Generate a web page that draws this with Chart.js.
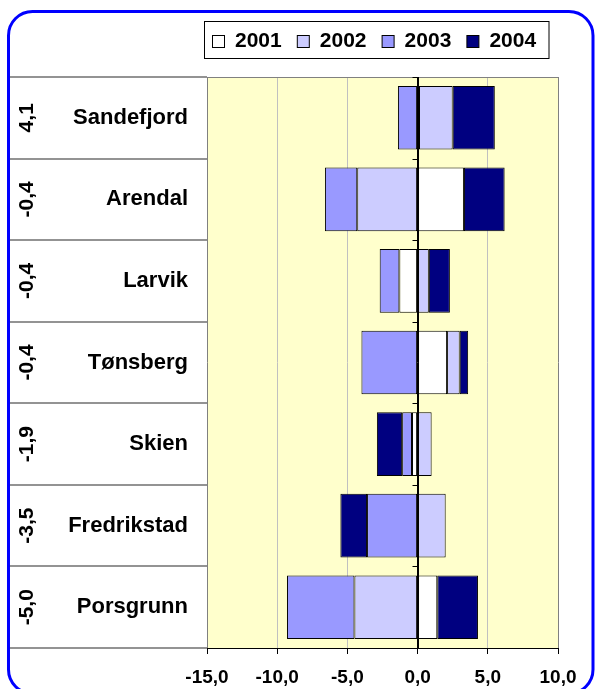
<!DOCTYPE html>
<html>
<head>
<meta charset="utf-8">
<script src="https://cdn.jsdelivr.net/npm/chart.js@4.4.1/dist/chart.umd.min.js"></script>
<style>
  html, body { margin: 0; padding: 0; background: #fff; }
  #wrap { width: 596px; height: 689px; position: relative; }
</style>
</head>
<body>
<div id="wrap"><canvas id="c" width="596" height="689"></canvas></div>
<script>
// ---- data ----
const categories = ['Sandefjord', 'Arendal', 'Larvik', 'Tønsberg', 'Skien', 'Fredrikstad', 'Porsgrunn'];
const totalLabels = ['4,1', '-0,4', '-0,4', '-0,4', '-1,9', '-3,5', '-5,0'];
const seriesNames = ['2001', '2002', '2003', '2004'];
const v2001 = [0.1, 3.3, -1.3, 2.1, -0.4, 0.0, 1.4];
const v2002 = [2.4, -4.3, 0.8, 0.9, 1.0, 2.0, -4.5];
const v2003 = [-1.4, -2.3, -1.4, -4.0, -0.7, -3.6, -4.8];
const v2004 = [3.0, 2.9, 1.5, 0.6, -1.8, -1.9, 2.9];
const xMin = -15, xMax = 10, xStep = 5;

const seriesColors = ['#FFFFFF', '#CCCCFF', '#9999FF', '#000080'];
const FONT = '"Liberation Sans", Arial, sans-serif';

const values = [v2001, v2002, v2003, v2004];
const datasets = seriesNames.map((name, i) => ({
  label: name,
  data: values[i],
  backgroundColor: seriesColors[i],
  borderColor: '#000000',
  borderWidth: 1,
  borderSkipped: false,
  categoryPercentage: 1.0,
  barPercentage: 0.78
}));

const decor = {
  id: 'decor',
  beforeDraw(chart) {
    const { ctx, chartArea: a } = chart;
    ctx.save();
    ctx.fillStyle = '#FFFFCC';
    ctx.fillRect(a.left, a.top, a.right - a.left, a.bottom - a.top);
    ctx.restore();
  },
  afterDatasetsDraw(chart) {
    const { ctx, chartArea: a } = chart;
    const y = chart.scales.y, x = chart.scales.x;
    const n = categories.length;
    const half = (y.getPixelForValue(1) - y.getPixelForValue(0)) / 2;
    const x0 = Math.round(x.getPixelForValue(0)) + 0.5;
    ctx.save();
    // top border of plot
    ctx.strokeStyle = '#808080';
    ctx.lineWidth = 1;
    ctx.beginPath();
    ctx.moveTo(a.left, a.top + 0.5);
    ctx.lineTo(a.right, a.top + 0.5);
    ctx.stroke();
    // zero axis line and its tick marks
    ctx.strokeStyle = '#000';
    ctx.beginPath();
    ctx.moveTo(x0, a.top);
    ctx.lineTo(x0, a.bottom);
    for (let i = 0; i <= n; i++) {
      const yy = Math.round(y.getPixelForValue(i) - half) + 0.5;
      ctx.moveTo(x0 - 6, yy);
      ctx.lineTo(x0, yy);
    }
    ctx.stroke();
    // left table lines
    ctx.strokeStyle = '#707070';
    ctx.lineWidth = 1.6;
    ctx.beginPath();
    for (let i = 0; i <= n; i++) {
      const yy = Math.round(y.getPixelForValue(i) - half);
      ctx.moveTo(8, yy);
      ctx.lineTo(a.left, yy);
    }
    ctx.stroke();
    // rotated total labels
    ctx.fillStyle = '#000';
    ctx.font = 'bold 21px ' + FONT;
    ctx.textAlign = 'center';
    ctx.textBaseline = 'middle';
    for (let i = 0; i < n; i++) {
      ctx.save();
      ctx.translate(27, y.getPixelForValue(i));
      ctx.rotate(-Math.PI / 2);
      ctx.fillText(totalLabels[i], 0, 0);
      ctx.restore();
    }
    ctx.restore();
  },
  afterDraw(chart) {
    const { ctx } = chart;
    ctx.save();
    // custom legend
    ctx.fillStyle = '#fff';
    ctx.fillRect(204.5, 21.5, 344.5, 37);
    ctx.strokeStyle = '#000';
    ctx.lineWidth = 1;
    ctx.strokeRect(204.5, 21.5, 344.5, 37);
    ctx.font = 'bold 21px ' + FONT;
    ctx.textAlign = 'left';
    ctx.textBaseline = 'middle';
    chart.data.datasets.forEach((ds, i) => {
      const bx = 212.5 + i * 84.8;
      ctx.fillStyle = ds.backgroundColor;
      ctx.fillRect(bx, 35.5, 12, 12);
      ctx.strokeStyle = '#000';
      ctx.strokeRect(bx, 35.5, 12, 12);
      ctx.fillStyle = '#000';
      ctx.fillText(ds.label, 235 + i * 84.8, 41.5);
    });
    // blue rounded frame
    ctx.strokeStyle = '#0000FF';
    ctx.lineWidth = 3;
    const fx = 8.5, fy = 11.5, fw = 584.5, fh = 682, r = 24;
    ctx.beginPath();
    ctx.moveTo(fx + r, fy);
    ctx.lineTo(fx + fw - r, fy);
    ctx.arcTo(fx + fw, fy, fx + fw, fy + r, r);
    ctx.lineTo(fx + fw, fy + fh - r);
    ctx.arcTo(fx + fw, fy + fh, fx + fw - r, fy + fh, r);
    ctx.lineTo(fx + r, fy + fh);
    ctx.arcTo(fx, fy + fh, fx, fy + fh - r, r);
    ctx.lineTo(fx, fy + r);
    ctx.arcTo(fx, fy, fx + r, fy, r);
    ctx.closePath();
    ctx.stroke();
    ctx.restore();
  }
};

new Chart(document.getElementById('c'), {
  type: 'bar',
  data: { labels: categories, datasets },
  options: {
    indexAxis: 'y',
    responsive: false,
    animation: false,
    layout: { padding: { top: 77, right: 38, bottom: 0, left: 0 } },
    plugins: { legend: { display: false }, tooltip: { enabled: false } },
    scales: {
      x: {
        stacked: true,
        min: xMin,
        max: xMax,
        ticks: {
          stepSize: xStep,
          maxRotation: 0,
          padding: 12,
          color: '#000',
          font: { family: FONT, size: 19, weight: 'bold' },
          callback: v => v.toFixed(1).replace('.', ',')
        },
        grid: {
          color: c => {
            const v = c.tick ? c.tick.value : null;
            if (v === xMin || v === xMax) return '#808080';
            if (v === 0) return '#000000';
            return '#C0C0C0';
          },
          tickColor: '#000',
          tickLength: 6,
          lineWidth: 1
        },
        border: { color: '#000', width: 1 },
        afterFit: s => { s.height = 41; }
      },
      y: {
        stacked: true,
        grid: { display: false, drawTicks: false },
        border: { display: false },
        ticks: {
          padding: 19,
          color: '#000',
          font: { family: FONT, size: 22, weight: 'bold' }
        },
        afterFit: s => { s.width = 207; }
      }
    }
  },
  plugins: [decor]
});
</script>
</body>
</html>
